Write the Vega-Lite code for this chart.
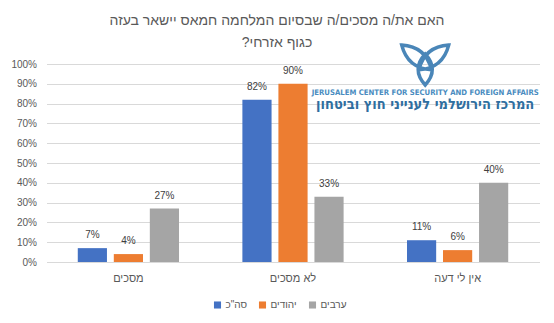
{
  "$schema": "https://vega.github.io/schema/vega-lite/v6.json",
  "width": 493,
  "height": 198,
  "autosize": {"type": "none"},
  "padding": {"left": 46.5, "top": 64, "right": 14.5, "bottom": 61},
  "background": "white",
  "config": {
    "font": "Liberation Sans",
    "view": {"stroke": null},
    "axis": {"labelColor": "#595959", "labelFont": "Liberation Sans"},
    "legend": {"labelColor": "#595959", "labelFont": "Liberation Sans"}
  },
  "title": {
    "text": ["האם את/ה מסכים/ה שבסיום המלחמה חמאס יישאר בעזה", "כגוף אזרחי?‏"],
    "anchor": "middle",
    "frame": "group",
    "dx": -16,
    "offset": -12,
    "fontSize": 14,
    "fontWeight": "normal",
    "color": "#595959",
    "lineHeight": 22
  },
  "datasets": {
    "survey": [
      {"answer": "מסכים", "group": "סה\"כ", "value": 0.07},
      {"answer": "מסכים", "group": "יהודים", "value": 0.04},
      {"answer": "מסכים", "group": "ערבים", "value": 0.27},
      {"answer": "לא מסכים", "group": "סה\"כ", "value": 0.82},
      {"answer": "לא מסכים", "group": "יהודים", "value": 0.90},
      {"answer": "לא מסכים", "group": "ערבים", "value": 0.33},
      {"answer": "אין לי דעה", "group": "סה\"כ", "value": 0.11},
      {"answer": "אין לי דעה", "group": "יהודים", "value": 0.06},
      {"answer": "אין לי דעה", "group": "ערבים", "value": 0.40}
    ]
  },
  "layer": [
    {
      "data": {"name": "survey"},
      "mark": {"type": "bar"},
      "encoding": {
        "x": {
          "field": "answer", "type": "nominal",
          "sort": ["מסכים", "לא מסכים", "אין לי דעה"],
          "scale": {"paddingInner": 0.385, "paddingOuter": 0.19},
          "axis": {"title": null, "labelAngle": 0, "ticks": false, "domainColor": "#D9D9D9", "labelFontSize": 11, "labelPadding": 10}
        },
        "xOffset": {
          "field": "group", "type": "nominal",
          "sort": ["סה\"כ", "יהודים", "ערבים"],
          "scale": {"paddingInner": 0.19, "paddingOuter": 0}
        },
        "y": {
          "field": "value", "type": "quantitative",
          "scale": {"domain": [0, 1]},
          "axis": {"title": null, "values": [0, 0.1, 0.2, 0.3, 0.4, 0.5, 0.6, 0.7, 0.8, 0.9, 1], "labelOverlap": false, "format": ".0%", "domain": false, "ticks": false, "gridColor": "#D9D9D9", "labelFontSize": 10, "labelPadding": 10}
        },
        "color": {
          "field": "group", "type": "nominal",
          "scale": {"domain": ["סה\"כ", "יהודים", "ערבים"], "range": ["#4472C4", "#ED7D31", "#A5A5A5"]},
          "legend": {"title": null, "orient": "none", "direction": "horizontal", "legendX": 166, "legendY": 236, "symbolType": "square", "symbolSize": 50, "symbolStrokeWidth": 0, "labelFontSize": 10, "columnPadding": 10, "labelOffset": 3}
        }
      }
    },
    {
      "data": {"name": "survey"},
      "mark": {"type": "text", "baseline": "alphabetic", "dy": -10, "fontSize": 10, "color": "#404040"},
      "encoding": {
        "x": {"field": "answer", "type": "nominal", "sort": ["מסכים", "לא מסכים", "אין לי דעה"], "axis": {"title": null, "labelAngle": 0, "ticks": false, "domainColor": "#D9D9D9", "labelFontSize": 11, "labelPadding": 10}},
        "xOffset": {"field": "group", "type": "nominal", "sort": ["סה\"כ", "יהודים", "ערבים"]},
        "y": {"field": "value", "type": "quantitative", "axis": {"title": null, "values": [0, 0.1, 0.2, 0.3, 0.4, 0.5, 0.6, 0.7, 0.8, 0.9, 1], "labelOverlap": false, "format": ".0%", "domain": false, "ticks": false, "gridColor": "#D9D9D9", "labelFontSize": 10, "labelPadding": 10}},
        "text": {"field": "value", "format": ".0%"}
      }
    },
    {
      "data": {"values": [{"name": "logo"}]},
      "mark": {
        "type": "point",
        "filled": false,
        "clip": false,
        "shape": "M0,0.87Q0.6,0.21 0,-0.45Q-0.6,0.21 0,0.87ZM-1,-0.83Q-0.747,0.158 0.27,0.22Q0.017,-0.768 -1,-0.83ZM1,-0.83Q0.747,0.158 -0.27,0.22Q-0.017,-0.768 1,-0.83Z",
        "size": 2209,
        "stroke": "#4A86B8",
        "strokeWidth": 3.5,
        "opacity": 1
      },
      "encoding": {
        "x": {"datum": "אין לי דעה", "bandPosition": 0.18, "axis": {"title": null, "labelAngle": 0, "ticks": false, "domainColor": "#D9D9D9", "labelFontSize": 11, "labelPadding": 10}},
        "y": {"datum": 0.997, "axis": {"title": null, "values": [0, 0.1, 0.2, 0.3, 0.4, 0.5, 0.6, 0.7, 0.8, 0.9, 1], "labelOverlap": false, "format": ".0%", "domain": false, "ticks": false, "gridColor": "#D9D9D9", "labelFontSize": 10, "labelPadding": 10}}
      }
    },
    {
      "data": {"values": [{"line": "JERUSALEM CENTER FOR SECURITY AND FOREIGN AFFAIRS"}]},
      "mark": {"type": "text", "font": "DejaVu Sans Condensed", "fontWeight": "bold", "fontSize": 7.7, "color": "#4A8CC0", "baseline": "middle", "align": "center"},
      "encoding": {
        "x": {"datum": "אין לי דעה", "bandPosition": 0.18, "axis": {"title": null, "labelAngle": 0, "ticks": false, "domainColor": "#D9D9D9", "labelFontSize": 11, "labelPadding": 10}},
        "y": {"datum": 0.854, "axis": {"title": null, "values": [0, 0.1, 0.2, 0.3, 0.4, 0.5, 0.6, 0.7, 0.8, 0.9, 1], "labelOverlap": false, "format": ".0%", "domain": false, "ticks": false, "gridColor": "#D9D9D9", "labelFontSize": 10, "labelPadding": 10}},
        "text": {"field": "line"}
      }
    },
    {
      "data": {"values": [{"line": "המרכז הירושלמי לענייני חוץ וביטחון"}]},
      "mark": {"type": "text", "font": "DejaVu Sans Condensed", "fontWeight": "bold", "fontSize": 14.5, "color": "#2F6E9F", "baseline": "middle", "align": "center"},
      "encoding": {
        "x": {"datum": "אין לי דעה", "bandPosition": 0.18, "axis": {"title": null, "labelAngle": 0, "ticks": false, "domainColor": "#D9D9D9", "labelFontSize": 11, "labelPadding": 10}},
        "y": {"datum": 0.795, "axis": {"title": null, "values": [0, 0.1, 0.2, 0.3, 0.4, 0.5, 0.6, 0.7, 0.8, 0.9, 1], "labelOverlap": false, "format": ".0%", "domain": false, "ticks": false, "gridColor": "#D9D9D9", "labelFontSize": 10, "labelPadding": 10}},
        "text": {"field": "line"}
      }
    }
  ]
}
